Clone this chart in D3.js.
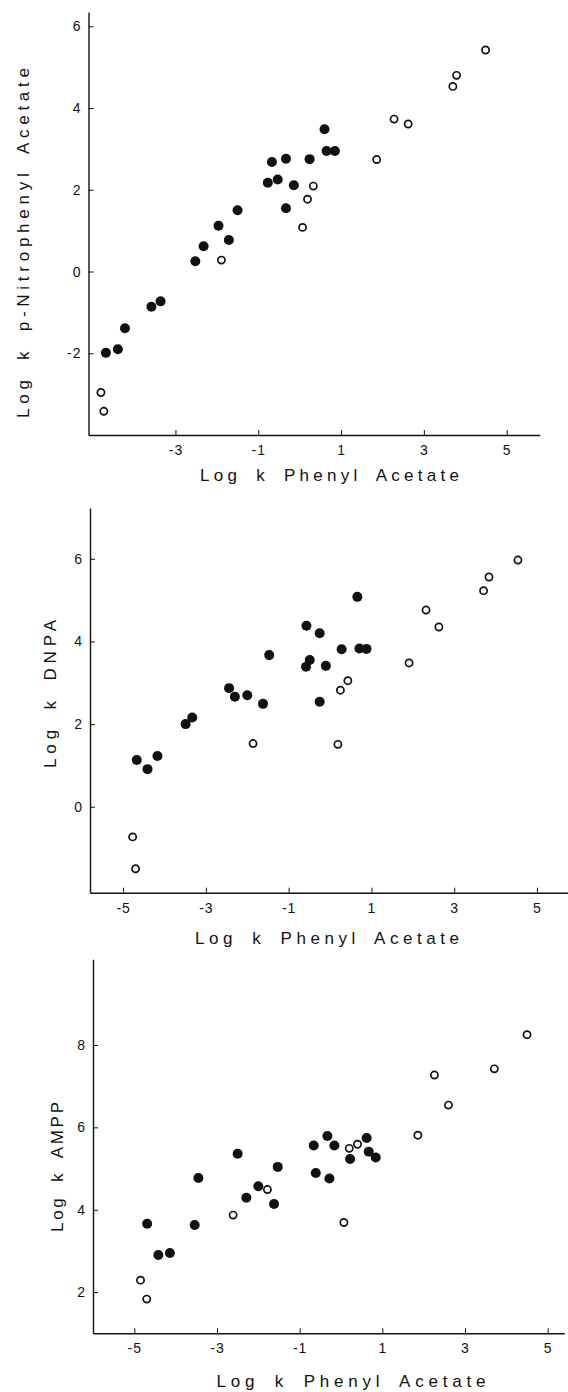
<!DOCTYPE html>
<html>
<head>
<meta charset="utf-8">
<script src="https://cdn.jsdelivr.net/npm/d3@7"></script>
<style>
  body { margin: 0; background: #fff; }
  text { font-family: "Liberation Sans", Arial, sans-serif; fill: #111; }
  .axis path, .axis line { stroke: #111; }
</style>
</head>
<body>
<svg id="chart" width="568" height="1392"></svg>
<script>
// shared x axis
const xTitle = "Log k Phenyl Acetate"
const xTicks = [-5, -3, -1, 1, 3, 5]

// panel 1: p-nitrophenyl acetate
const pnpaTitle = "Log k p-Nitrophenyl Acetate"
const pnpaYTicks = [-2, 0, 2, 4, 6]
const pnpaFilled = [
    [-4.68, -1.99], [-4.39, -1.90], [-4.22, -1.39], [-3.58, -0.86], [-3.36, -0.73],
    [-2.52, 0.25], [-2.32, 0.62], [-1.96, 1.12], [-1.71, 0.77], [-1.50, 1.50],
    [-0.77, 2.17], [-0.67, 2.68], [-0.53, 2.25], [-0.33, 2.76], [-0.33, 1.55],
    [-0.14, 2.11], [0.24, 2.75], [0.60, 3.48], [0.65, 2.95], [0.85, 2.95]
]
const pnpaOpen = [
    [-4.80, -2.96], [-4.73, -3.42], [-1.89, 0.28], [0.07, 1.08], [0.19, 1.77], [0.33, 2.09],
    [1.86, 2.74], [2.28, 3.73], [2.62, 3.61], [3.70, 4.53], [3.79, 4.80], [4.49, 5.42]
]

// panel 2: DNPA
const dnpaTitle = "Log k DNPA"
const dnpaYTicks = [0, 2, 4, 6]
const dnpaFilled = [
    [-4.67, 1.13], [-4.41, 0.91], [-4.17, 1.23], [-3.49, 2.00], [-3.33, 2.16],
    [-2.44, 2.87], [-2.30, 2.66], [-2.00, 2.70], [-1.62, 2.49], [-1.47, 3.67],
    [-0.57, 4.38], [-0.58, 3.39], [-0.49, 3.55], [-0.25, 4.20], [-0.10, 3.41],
    [-0.25, 2.54], [0.28, 3.81], [0.66, 5.08], [0.71, 3.83], [0.88, 3.82]
]
const dnpaOpen = [
    [-4.77, -0.73], [-4.70, -1.50], [-1.86, 1.53], [0.19, 1.51], [0.25, 2.82], [0.43, 3.05],
    [1.91, 3.48], [2.32, 4.76], [2.63, 4.35], [3.71, 5.23], [3.84, 5.56], [4.54, 5.97]
]

// panel 3: AMPP
const amppTitle = "Log k AMPP"
const amppYTicks = [2, 4, 6, 8]
const amppFilled = [
    [-4.69, 3.66], [-4.42, 2.90], [-4.14, 2.95], [-3.54, 3.63], [-3.45, 4.77],
    [-2.50, 5.36], [-2.29, 4.29], [-2.00, 4.57], [-1.62, 4.14], [-1.53, 5.04],
    [-0.66, 5.56], [-0.61, 4.89], [-0.33, 5.79], [-0.28, 4.76], [-0.16, 5.56],
    [0.22, 5.23], [0.62, 5.74], [0.67, 5.41], [0.84, 5.27]
]
const amppOpen = [
    [-4.85, 2.29], [-4.70, 1.83], [-2.61, 3.87], [-1.78, 4.49], [0.07, 3.69], [0.20, 5.49],
    [0.40, 5.59], [1.86, 5.81], [2.26, 7.27], [2.60, 6.54], [3.71, 7.42], [4.50, 8.25]
]

const svg = d3.select("#chart")
svg.append("rect").attr("width", 568).attr("height", 1392).attr("fill", "#fff")

/**
 * Draws one scatter panel with its axes, titles and both point series.
 */
function panel(o) {
    const x = d3.scaleLinear().domain(o.xDomain).range(o.xRange)
    const y = d3.scaleLinear().domain(o.yDomain).range(o.yRange)
    const g = svg.append("g")

    // x axis, ticks pointing inward
    const xTickList = xTicks.filter(t => t > o.xDomain[0] + 0.2)
    const xa = g.append("g")
        .attr("class", "axis")
        .attr("transform", `translate(0,${o.yRange[0]})`)
        .call(d3.axisBottom(x).tickValues(xTickList).tickFormat(d => d).tickSizeInner(-5).tickSizeOuter(0).tickPadding(10))
    xa.select(".domain").attr("stroke-width", 1.6)
    xa.selectAll("text").attr("font-size", 14).attr("fill", "#111").style("letter-spacing", "1px")

    // y axis, ticks pointing inward
    const ya = g.append("g")
        .attr("class", "axis")
        .attr("transform", `translate(${o.xRange[0]},0)`)
        .call(d3.axisLeft(y).tickValues(o.yTicks).tickFormat(d => d).tickSizeInner(-5).tickSizeOuter(0).tickPadding(7))
    ya.select(".domain").attr("stroke-width", 1.4)
    ya.selectAll("text").attr("font-size", 14).attr("fill", "#111").style("letter-spacing", "1px")

    // filled points
    g.append("g").selectAll("circle")
        .data(o.filled)
        .join("circle")
        .attr("cx", d => x(d[0]))
        .attr("cy", d => y(d[1]))
        .attr("r", 5)
        .attr("fill", "#111")

    // open points
    g.append("g").selectAll("circle")
        .data(o.open)
        .join("circle")
        .attr("cx", d => x(d[0]))
        .attr("cy", d => y(d[1]))
        .attr("r", 3.6)
        .attr("fill", "#fff")
        .attr("stroke", "#111")
        .attr("stroke-width", 1.7)

    // x axis title
    g.append("text")
        .attr("x", o.xTitle[0])
        .attr("y", o.xTitle[1])
        .attr("text-anchor", "middle")
        .attr("font-size", 17)
        .attr("textLength", o.xTitle[2])
        .attr("lengthAdjust", "spacing")
        .style("word-spacing", "6px")
        .text(xTitle)

    // y axis title, rotated
    g.append("text")
        .attr("transform", `translate(${o.yTitle[0]},${o.yTitle[1]}) rotate(-90)`)
        .attr("text-anchor", "middle")
        .attr("font-size", 17)
        .attr("textLength", o.yTitle[2])
        .attr("lengthAdjust", "spacing")
        .style("word-spacing", "6px")
        .text(o.title)
}

panel({
    title: pnpaTitle, yTicks: pnpaYTicks, filled: pnpaFilled, open: pnpaOpen,
    xDomain: [-5.1, 5.8], xRange: [88.5, 539.8],
    yDomain: [-4, 6.35], yRange: [435, 12],
    xTitle: [329.5, 481, 259], yTitle: [28.5, 243, 350]
})

panel({
    title: dnpaTitle, yTicks: dnpaYTicks, filled: dnpaFilled, open: dnpaOpen,
    xDomain: [-5.8, 5.75], xRange: [90, 568],
    yDomain: [-2.08, 7.23], yRange: [892.7, 508],
    xTitle: [327, 944, 264], yTitle: [56, 694, 148]
})

panel({
    title: amppTitle, yTicks: amppYTicks, filled: amppFilled, open: amppOpen,
    xDomain: [-6, 5.4], xRange: [93, 564.2],
    yDomain: [1, 10.08], yRange: [1333.3, 959.3],
    xTitle: [351, 1387, 269], yTitle: [63, 1167, 130]
})
</script>
</body>
</html>
